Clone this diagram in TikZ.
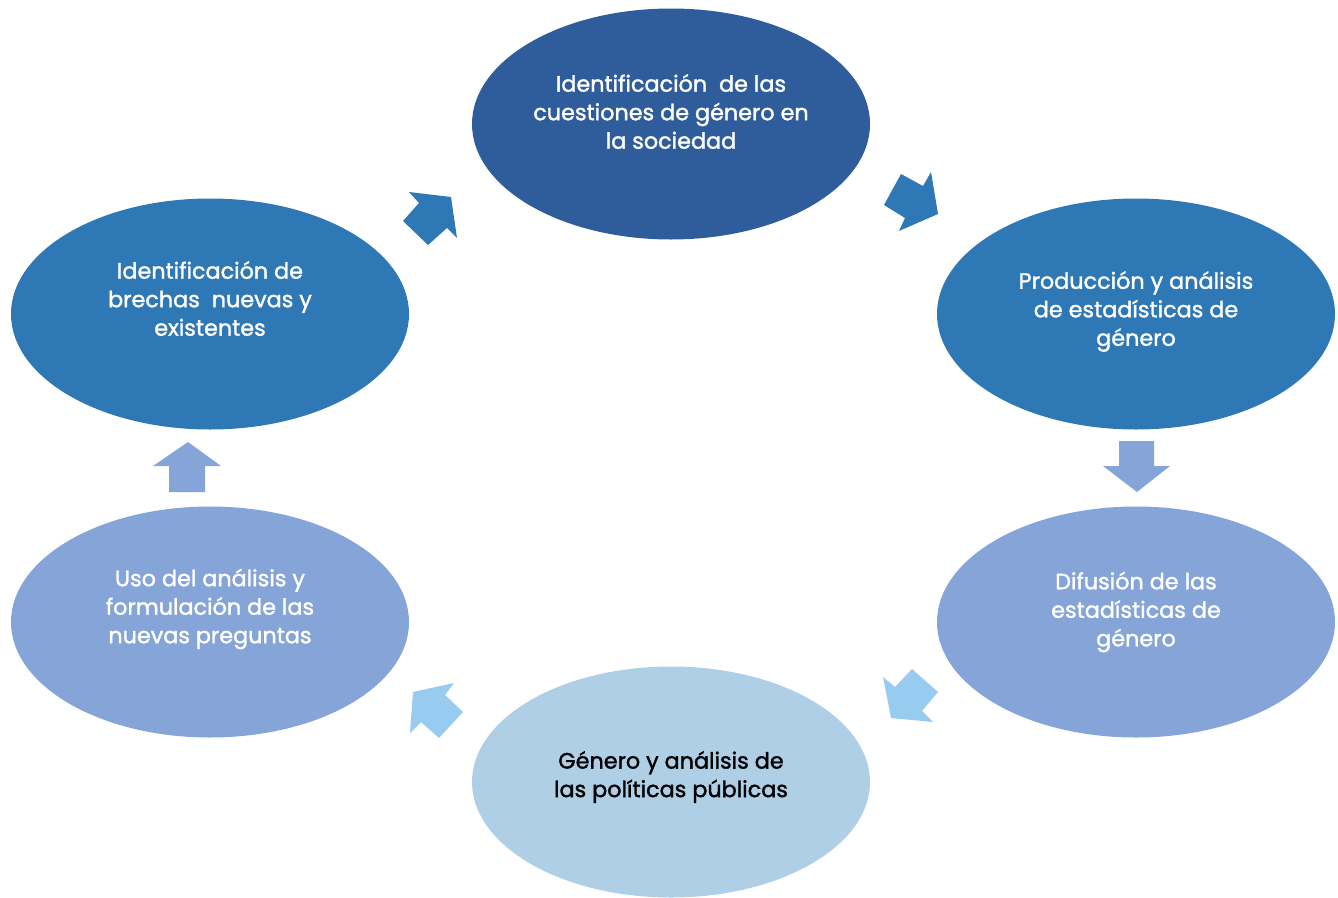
\documentclass[tikz,border=0pt]{standalone}
\usepackage{fontspec}
\setmainfont[FakeBold=1.5]{Poppins}
\usetikzlibrary{shapes.geometric}
\definecolor{cTop}{HTML}{2F5D9B}
\definecolor{cMid}{HTML}{2E78B6}
\definecolor{cLow}{HTML}{85A4D7}
\definecolor{cBot}{HTML}{AFCFE7}
\definecolor{cArrA}{HTML}{2E78B6}
\definecolor{cArrB}{HTML}{85A4D7}
\definecolor{cArrC}{HTML}{97CBEF}
\tikzset{
  stage/.style={ellipse, minimum width=398pt, minimum height=231pt, inner sep=0pt, draw=none},
  lbl/.style={align=center, font=\fontsize{22.3}{28.5}\selectfont, text=white, inner sep=0pt},
}
\begin{document}
\begin{tikzpicture}[x=1pt,y=-1pt]
\useasboundingbox (0,0) rectangle (1338,897);
\node[stage, fill=cTop] (n1) at (671,124) {};
\node[stage, fill=cMid] (n2) at (1136,314) {};
\node[stage, fill=cLow] (n3) at (1136,622) {};
\node[stage, fill=cBot] (n4) at (671,782) {};
\node[stage, fill=cLow] (n5) at (210,622) {};
\node[stage, fill=cMid] (n6) at (210,314) {};

\node[lbl] (t1) at (671,111.5) {Identificación\ \ de las\\cuestiones de género en\\la sociedad};
\node[lbl] (t2) at (1136,311.5) {Producción y análisis\\de estadísticas de\\género};
\node[lbl] (t3) at (1136,612) {Difusión de las\\estadísticas de\\género};
\node[lbl, text=black] (t4) at (671,777) {Género y análisis de\\las políticas públicas};
\node[lbl] (t5) at (210,609) {Uso del análisis y\\formulación de las\\nuevas preguntas};
\node[lbl] (t6) at (210,298.5) {Identificación de\\brechas\ \ nuevas y\\existentes};

% block arrows
\fill[cArrA] (409,192) -- (451,197) -- (457,238) -- (447,228) -- (428,245) -- (403,221) -- (419,203) -- cycle;
\fill[cArrA] (901,174) -- (923,186) -- (931,172) -- (938,214) -- (899,231) -- (905,218) -- (884,205) -- cycle;
\fill[cArrB] (1119,441) -- (1154,441) -- (1154,466) -- (1170,466) -- (1137,492) -- (1103,466) -- (1119,466) -- cycle;
\fill[cArrC] (883,677) -- (895,687) -- (912,669) -- (938,692) -- (922,711) -- (933,722) -- (891,718) -- cycle;
\fill[cArrC] (413,692) -- (454,683) -- (445,695) -- (463,712) -- (439,738) -- (421,722) -- (410,733) -- cycle;
\fill[cArrB] (188,442) -- (221,466) -- (205,466) -- (205,492) -- (169,492) -- (169,466) -- (153,466) -- cycle;
\end{tikzpicture}
\end{document}
